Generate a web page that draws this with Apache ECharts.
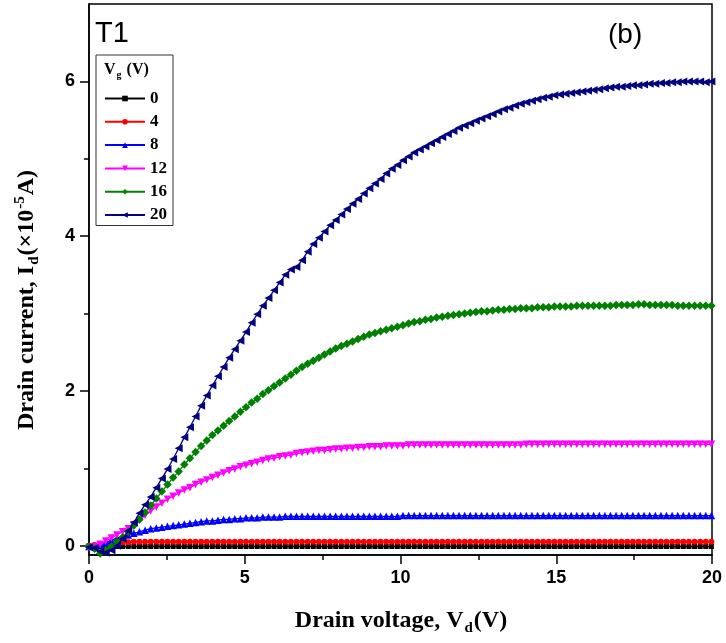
<!DOCTYPE html>
<html><head><meta charset="utf-8">
<script src="https://cdn.jsdelivr.net/npm/echarts@6/dist/echarts.min.js"></script>
<style>html,body{margin:0;padding:0;background:#fff}#c{width:726px;height:643px}</style>
</head><body><div id="c"></div>
<script>
// Drain voltage samples (V)
const vd = [0,0.18,0.36,0.54,0.72,0.9,1.08,1.26,1.44,1.62,
1.8,1.98,2.16,2.34,2.52,2.7,2.88,3.06,3.24,3.42,
3.6,3.78,3.96,4.14,4.32,4.5,4.68,4.86,5.04,5.22,
5.4,5.58,5.76,5.94,6.12,6.3,6.48,6.66,6.84,7.02,
7.2,7.38,7.56,7.74,7.92,8.1,8.28,8.46,8.64,8.82,
9,9.18,9.36,9.54,9.72,9.9,10.08,10.26,10.44,10.62,
10.8,10.98,11.16,11.34,11.52,11.7,11.88,12.06,12.24,12.42,
12.6,12.78,12.96,13.14,13.32,13.5,13.68,13.86,14.04,14.22,
14.4,14.58,14.76,14.94,15.12,15.3,15.48,15.66,15.84,16.02,
16.2,16.38,16.56,16.74,16.92,17.1,17.28,17.46,17.64,17.82,
18,18.18,18.36,18.54,18.72,18.9,19.08,19.26,19.44,19.62,
19.8,19.98];

// Drain current (x1e-5 A) for each gate voltage
const id0 = [0.00,-0.01,-0.01,-0.01,-0.01,-0.01,-0.01,-0.01,-0.01,-0.01,
-0.01,-0.01,-0.01,-0.01,-0.01,-0.01,-0.01,-0.01,-0.01,-0.01,
-0.01,-0.01,-0.01,-0.01,-0.01,-0.01,-0.01,-0.01,-0.01,-0.01,
-0.01,-0.01,-0.01,-0.01,-0.01,-0.01,-0.01,-0.01,-0.01,-0.01,
-0.01,-0.01,-0.01,-0.01,-0.01,-0.01,-0.01,-0.01,-0.01,-0.01,
-0.01,-0.01,-0.01,-0.01,-0.01,-0.01,-0.01,-0.01,-0.01,-0.01,
-0.01,-0.01,-0.01,-0.01,-0.01,-0.01,-0.01,-0.01,-0.01,-0.01,
-0.01,-0.01,-0.01,-0.01,-0.01,-0.01,-0.01,-0.01,-0.01,-0.01,
-0.01,-0.01,-0.01,-0.01,-0.01,-0.01,-0.01,-0.01,-0.01,-0.01,
-0.01,-0.01,-0.01,-0.01,-0.01,-0.01,-0.01,-0.01,-0.01,-0.01,
-0.01,-0.01,-0.01,-0.01,-0.01,-0.01,-0.01,-0.01,-0.01,-0.01,
-0.01,-0.01];
const id4 = [0.00,0.01,0.02,0.03,0.035,0.04,0.04,0.045,0.05,0.05,
0.05,0.05,0.05,0.05,0.05,0.05,0.05,0.05,0.05,0.05,
0.05,0.05,0.05,0.05,0.05,0.05,0.05,0.05,0.05,0.05,
0.05,0.05,0.05,0.05,0.05,0.05,0.05,0.05,0.05,0.05,
0.05,0.05,0.05,0.05,0.05,0.05,0.05,0.05,0.05,0.05,
0.05,0.05,0.05,0.05,0.05,0.05,0.05,0.05,0.05,0.05,
0.05,0.05,0.05,0.05,0.05,0.05,0.05,0.05,0.05,0.05,
0.05,0.05,0.05,0.05,0.05,0.05,0.05,0.05,0.05,0.05,
0.05,0.05,0.05,0.05,0.05,0.05,0.05,0.05,0.05,0.05,
0.05,0.05,0.05,0.05,0.05,0.05,0.05,0.05,0.05,0.05,
0.05,0.05,0.05,0.05,0.05,0.05,0.05,0.05,0.05,0.05,
0.05,0.05];
const id8 = [-0.01,0.00,0.02,0.04,0.07,0.10,0.12,0.14,0.16,0.18,
0.20,0.22,0.23,0.24,0.25,0.26,0.27,0.28,0.29,0.30,
0.31,0.32,0.32,0.33,0.34,0.34,0.35,0.35,0.36,0.36,
0.36,0.37,0.37,0.37,0.37,0.38,0.38,0.38,0.38,0.38,
0.38,0.38,0.38,0.38,0.38,0.38,0.38,0.38,0.38,0.38,
0.38,0.38,0.38,0.38,0.38,0.38,0.39,0.39,0.39,0.39,
0.39,0.39,0.39,0.39,0.39,0.39,0.39,0.39,0.39,0.39,
0.39,0.39,0.39,0.39,0.39,0.39,0.39,0.39,0.39,0.39,
0.39,0.39,0.39,0.39,0.39,0.39,0.39,0.39,0.39,0.39,
0.39,0.39,0.39,0.39,0.39,0.39,0.39,0.39,0.39,0.39,
0.39,0.39,0.39,0.39,0.39,0.39,0.39,0.39,0.39,0.39,
0.39,0.39];
const id12 = [-0.03,-0.01,0.02,0.06,0.10,0.14,0.18,0.22,0.27,0.33,
0.39,0.45,0.50,0.55,0.60,0.64,0.68,0.72,0.75,0.79,
0.82,0.85,0.88,0.91,0.94,0.97,0.99,1.02,1.04,1.06,
1.08,1.10,1.12,1.13,1.15,1.16,1.17,1.19,1.20,1.21,
1.22,1.23,1.23,1.24,1.25,1.25,1.26,1.26,1.27,1.27,
1.28,1.28,1.28,1.29,1.29,1.29,1.29,1.30,1.30,1.30,
1.30,1.30,1.30,1.30,1.30,1.30,1.30,1.30,1.30,1.30,
1.30,1.30,1.30,1.30,1.30,1.30,1.30,1.30,1.31,1.31,
1.31,1.31,1.31,1.31,1.31,1.31,1.31,1.31,1.31,1.31,
1.31,1.31,1.31,1.31,1.31,1.31,1.31,1.31,1.31,1.31,
1.31,1.31,1.31,1.31,1.31,1.31,1.31,1.31,1.31,1.31,
1.31,1.31];
const id16 = [-0.01,-0.04,-0.10,-0.06,-0.01,0.05,0.11,0.18,0.26,0.34,
0.43,0.52,0.61,0.70,0.79,0.88,0.96,1.05,1.13,1.21,
1.29,1.36,1.43,1.49,1.55,1.61,1.67,1.73,1.79,1.85,
1.90,1.96,2.01,2.06,2.11,2.16,2.21,2.26,2.31,2.35,
2.39,2.43,2.47,2.51,2.55,2.58,2.61,2.64,2.67,2.70,
2.73,2.75,2.77,2.79,2.81,2.83,2.85,2.87,2.89,2.90,
2.92,2.93,2.95,2.96,2.97,2.98,2.99,3.00,3.01,3.02,
3.03,3.03,3.04,3.05,3.05,3.06,3.06,3.07,3.07,3.07,
3.08,3.08,3.08,3.09,3.09,3.09,3.09,3.10,3.10,3.10,
3.10,3.10,3.10,3.10,3.11,3.11,3.11,3.11,3.12,3.12,
3.11,3.11,3.11,3.11,3.11,3.10,3.10,3.10,3.10,3.10,
3.10,3.10];
const id20 = [-0.02,-0.03,-0.07,-0.09,-0.06,0.00,0.09,0.19,0.30,0.42,
0.53,0.63,0.75,0.87,0.99,1.12,1.26,1.40,1.53,1.67,
1.81,1.94,2.07,2.19,2.31,2.43,2.54,2.65,2.76,2.88,
2.99,3.10,3.20,3.30,3.40,3.50,3.57,3.60,3.69,3.80,
3.90,3.98,4.06,4.14,4.21,4.28,4.35,4.42,4.48,4.55,
4.62,4.68,4.74,4.81,4.87,4.92,4.98,5.03,5.08,5.12,
5.16,5.20,5.24,5.28,5.32,5.36,5.40,5.43,5.46,5.49,
5.52,5.55,5.58,5.61,5.64,5.66,5.69,5.71,5.73,5.75,
5.77,5.79,5.80,5.82,5.83,5.84,5.85,5.86,5.87,5.88,
5.89,5.90,5.91,5.92,5.93,5.93,5.94,5.95,5.95,5.96,
5.97,5.97,5.98,5.98,5.99,5.99,6.00,6.00,6.00,6.00,
5.99,6.00];

const seriesNames = ['0','4','8','12','16','20'];
const xTicks = [0,5,10,15,20];
const yTicks = [0,2,4,6];
const yMinorTicks = [1,3,5];

const seriesData = [id0,id4,id8,id12,id16,id20];
const colors = ['#000000','#ff0000','#0000ff','#ff00ff','#008000','#000080'];
const symbols = ['rect','circle','triangle','triangle','diamond','triangle'];
const rotates = [0,0,0,180,0,90];
const sizes = [5,6,7.5,7.5,8.5,8];

const chart = echarts.init(document.getElementById('c'));
const sansBold = {fontFamily:'Liberation Sans', fontWeight:'bold', fontSize:18, color:'#000'};

const series = seriesData.map((arr,k)=>({
  name: seriesNames[k],
  type:'line',
  data: vd.map((x,i)=>[x, arr[i]]),
  symbol: symbols[k],
  symbolSize: sizes[k],
  symbolRotate: rotates[k],
  showAllSymbol: true,
  lineStyle:{color:colors[k], width:1.3},
  itemStyle:{color:colors[k]},
  z: 2 + k
}));

chart.setOption({
  animation:false,
  backgroundColor:'#fff',
  grid:{left:89, right:14, top:4, bottom:88, show:true, borderColor:'#000', borderWidth:1.5},
  xAxis:{type:'value', min:0, max:20, interval:5,
    axisLine:{show:true, onZero:false, lineStyle:{color:'#000', width:1.5}},
    axisTick:{show:true, length:9, lineStyle:{color:'#000', width:1.5}},
    minorTick:{show:true, splitNumber:2, length:5, lineStyle:{color:'#000', width:1.5}},
    axisLabel:Object.assign({margin:14, showMinLabel:true, showMaxLabel:true}, sansBold),
    splitLine:{show:false}},
  yAxis:[
    {type:'value', min:-0.12, max:7,
     axisLine:{show:true, onZero:false, lineStyle:{color:'#000', width:1.5}},
     axisTick:{show:true, length:9, customValues:yTicks, lineStyle:{color:'#000', width:1.5}},
     axisLabel:Object.assign({margin:14, customValues:yTicks}, sansBold),
     splitLine:{show:false}},
    {type:'value', min:-0.12, max:7, position:'left',
     axisLine:{show:false},
     axisTick:{show:true, length:5, customValues:yMinorTicks, lineStyle:{color:'#000', width:1.5}},
     axisLabel:{show:false},
     splitLine:{show:false}}
  ],
  legend:{orient:'vertical', left:96, top:55, padding:[35,6,2,8],
    itemWidth:40, itemHeight:7, itemGap:6.3,
    borderColor:'#333', borderWidth:1, backgroundColor:'#fff',
    textStyle:{fontFamily:'Liberation Serif', fontWeight:'bold', fontSize:17, color:'#000', lineHeight:16},
    data:seriesNames},
  graphic:[
    {type:'text', left:95, top:19, z:100, style:{text:'T1', fontFamily:'Liberation Sans', fontSize:29, fill:'#000'}},
    {type:'text', left:608, top:21, z:100, style:{text:'(b)', fontFamily:'Liberation Sans', fontSize:28, fill:'#000'}},
    {type:'text', left:104, top:62, z:100, style:{
      text:'{b|V}{s|g}{b| (V)}',
      rich:{
        b:{fontFamily:'Liberation Serif', fontWeight:'bold', fontSize:16, fill:'#000'},
        s:{fontFamily:'Liberation Serif', fontWeight:'bold', fontSize:10, fill:'#000', padding:[10,1,0,1]}
      }}},
    {type:'text', x:401, y:621, z:100, style:{
      text:'{b|Drain voltage, V}{s|d}{b|(V)}', align:'center', verticalAlign:'middle',
      rich:{
        b:{fontFamily:'Liberation Serif', fontWeight:'bold', fontSize:24, fill:'#000'},
        s:{fontFamily:'Liberation Serif', fontWeight:'bold', fontSize:15, fill:'#000', padding:[14,1,0,1]}
      }}},
    {type:'text', x:27, y:300, rotation:Math.PI/2, z:100, style:{
      text:'{b|Drain current, I}{s|d}{b|(×10}{p|-5}{b|A)}', align:'center', verticalAlign:'middle',
      rich:{
        b:{fontFamily:'Liberation Serif', fontWeight:'bold', fontSize:24, fill:'#000'},
        s:{fontFamily:'Liberation Serif', fontWeight:'bold', fontSize:15, fill:'#000', padding:[14,1,0,1]},
        p:{fontFamily:'Liberation Serif', fontWeight:'bold', fontSize:15, fill:'#000', padding:[0,1,14,1]}
      }}}
  ],
  series: series
});
</script></body></html>
